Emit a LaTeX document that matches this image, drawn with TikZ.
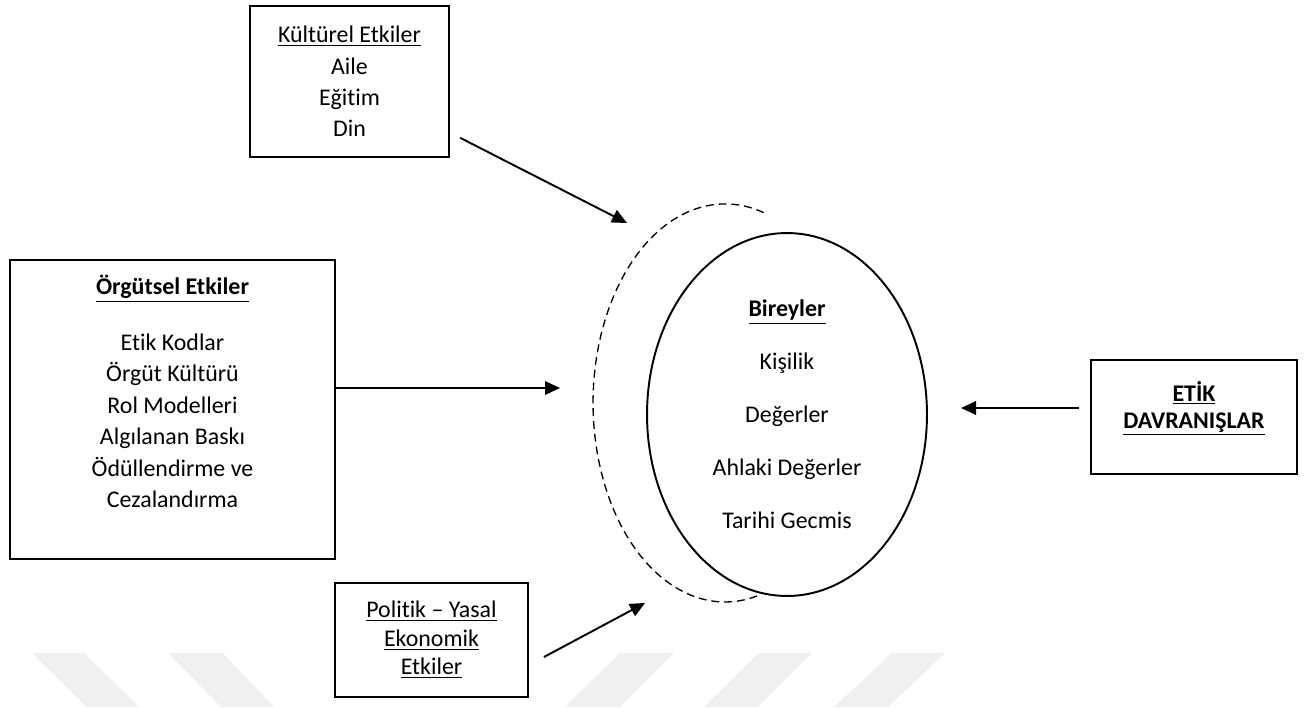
\documentclass[tikz,border=0pt]{standalone}
\usepackage{fontspec}
\setmainfont{Carlito}[Ligatures=NoCommon]
\usetikzlibrary{arrows.meta,shapes.geometric}
\begin{document}
\begin{tikzpicture}[x=0.02cm, y=-0.02cm,
    kutu/.style={draw, line width=1.1pt, fill=white, align=center, inner sep=0pt},
    yazi/.style={align=center, inner sep=0pt},
    ok/.style={-{Triangle[length=0.3cm, width=0.27cm]}, line width=1.1pt},
    iz/.style={fill=black!6, draw=none}]
    \useasboundingbox (0, 0) rectangle (1309, 707);
    \fill[iz] (32, 653) -- (84, 653) -- (139, 707) -- (87, 707) -- cycle;
    \fill[iz] (168, 653) -- (223, 653) -- (274, 707) -- (221, 707) -- cycle;
    \fill[iz] (620, 653) -- (674, 653) -- (620, 707) -- (565, 707) -- cycle;
    \fill[iz] (759, 653) -- (812, 653) -- (758, 707) -- (704, 707) -- cycle;
    \fill[iz] (892, 653) -- (945, 653) -- (888, 707) -- (834, 707) -- cycle;

    \node[kutu, minimum width=3.98cm, minimum height=3.02cm, font=\fontsize{13.6}{17.8}\selectfont] (kultur) at (349.5, 81.5)
        {\underline{Kültürel Etkiler}\\Aile\\Eğitim\\Din};
    \node[kutu, minimum width=6.5cm, minimum height=5.98cm] (orgut) at (172.5, 409.5) {};
    \node[yazi, anchor=north, font=\fontsize{13.6}{17.9}\selectfont] (orgutyazi) at (172.5, 275)
        {\textbf{\underline{Örgütsel Etkiler}}\\[13.8pt]Etik Kodlar\\Örgüt Kültürü\\Rol Modelleri\\Algılanan Baskı\\Ödüllendirme ve\\Cezalandırma};
    \node[kutu, minimum width=3.86cm, minimum height=2.28cm, font=\fontsize{13.6}{16.2}\selectfont] (politik) at (431.5, 640)
        {\underline{Politik – Yasal}\\\underline{Ekonomik}\\\underline{Etkiler}};
    \node[kutu, minimum width=4.12cm, minimum height=2.28cm] (etik) at (1194, 417) {};
    \node[yazi, anchor=north, font=\fontsize{13.6}{15.3}\selectfont] (etikyazi) at (1194, 381)
        {\textbf{\underline{ETİK}}\\\textbf{\underline{DAVRANIŞLAR}}};
    \node[ellipse, draw, line width=1.1pt, minimum width=5.6cm, minimum height=7.26cm, align=center, inner sep=0pt,
        font=\fontsize{13.6}{30.2}\selectfont] (birey) at (787, 414.5)
        {\textbf{\underline{Bireyler}}\\Kişilik\\Değerler\\Ahlaki Değerler\\Tarihi Gecmis};
    \draw[line width=0.75pt, dash pattern=on 4.5pt off 2.8pt] (757, 596) arc[start angle=76, end angle=288, x radius=132, y radius=199];

    \coordinate (ucK) at (627, 223);
    \coordinate (ucO) at (560, 388);
    \coordinate (ucP) at (645, 603);
    \coordinate (ucE) at (961, 408);
    \draw[ok, shorten <=0.23cm] (kultur) -- (ucK);
    \draw[ok] (orgut.east |- ucO) -- (ucO);
    \draw[ok] ([shift={(15, 17)}]politik.east) -- (ucP);
    \draw[ok, shorten <=0.22cm] (etik.west |- ucE) -- (ucE);
\end{tikzpicture}
\end{document}
